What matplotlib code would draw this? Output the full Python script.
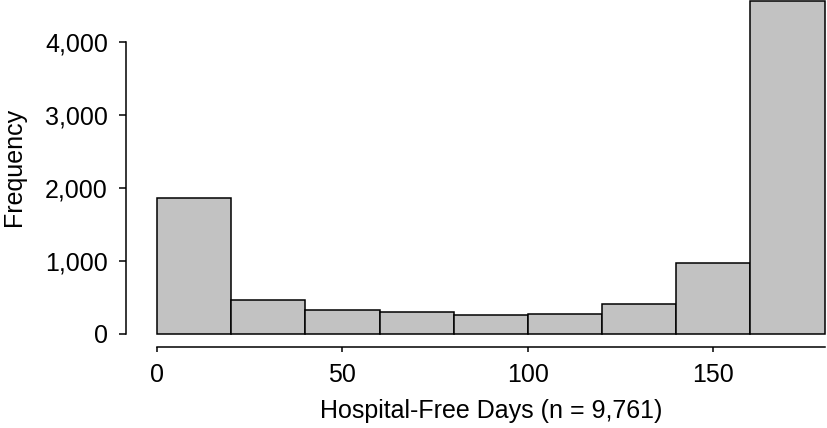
import matplotlib
matplotlib.use("Agg")
import matplotlib.pyplot as plt
import numpy as np

# Histogram of hospital-free days (bin edges every 20 days)
bin_edges = [0, 20, 40, 60, 80, 100, 120, 140, 160, 180]
counts = [1858, 456, 323, 291, 258, 272, 405, 969, 4575]
x_ticks = [0, 50, 100, 150]
y_ticks = [0, 1000, 2000, 3000, 4000]
y_tick_labels = ["0", "1,000", "2,000", "3,000", "4,000"]

plt.rcParams['font.family'] = ['Liberation Sans', 'DejaVu Sans']

fig = plt.figure(figsize=(8.28, 4.28), dpi=100)
ax = fig.add_axes([157 / 828, (428 - 333.5) / 428, (824.6 - 157) / 828, 333.5 / 428])

lefts = np.array(bin_edges[:-1])
widths = np.diff(bin_edges)
ax.bar(lefts, counts, width=widths, align='edge', color='#c2c2c2',
       edgecolor='black', linewidth=1.1, clip_on=False)

ax.set_xlim(0, 180)
ax.set_ylim(0, 4584)

# R-style detached axes
for s in ['top', 'right']:
    ax.spines[s].set_visible(False)
ax.spines['left'].set_position(('outward', 22))
ax.spines['bottom'].set_position(('outward', 10))
ax.spines['left'].set_bounds(0, 4000)
ax.spines['bottom'].set_bounds(0, 180)
ax.spines['left'].set_linewidth(1.1)
ax.spines['bottom'].set_linewidth(1.1)

ax.set_yticks(y_ticks)
ax.set_yticklabels(y_tick_labels)
ax.set_xticks(x_ticks)
ax.tick_params(axis='y', length=4.8, width=1.1, pad=8.5, labelsize=18)
ax.tick_params(axis='x', length=3.6, width=1.1, pad=8, labelsize=18)

ax.set_xlabel('Hospital-Free Days (n = 9,761)', fontsize=18, labelpad=8)
ax.set_ylabel('Frequency', fontsize=18, labelpad=14)

fig.savefig('out.png', dpi=100)
